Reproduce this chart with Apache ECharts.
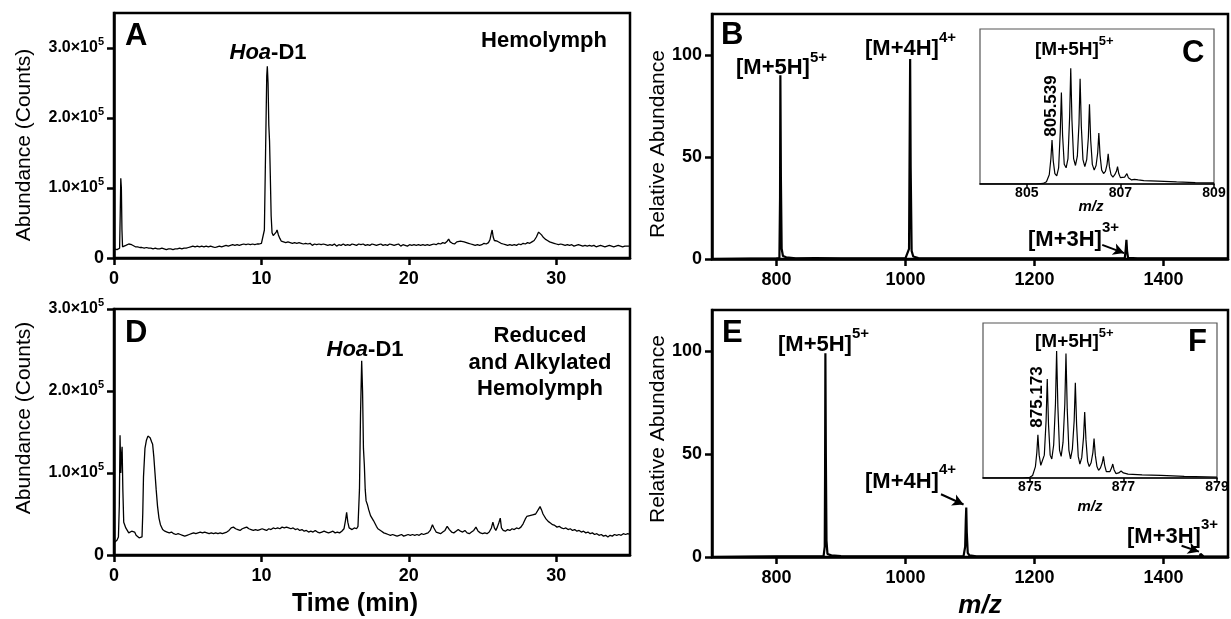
<!DOCTYPE html>
<html><head><meta charset="utf-8">
<script src="https://cdn.jsdelivr.net/npm/echarts@6.0.0/dist/echarts.min.js"></script>
<style>html,body{margin:0;padding:0;background:#fff}#c{width:1231px;height:619px}</style>
</head><body><div id="c"></div>
<script>
// ---- data (time in min, abundance in 10^3 counts) ----
const chromA = [[0,13],[0.1,12],[0.2,12],[0.3,13],[0.38,14],[0.42,60],[0.46,114],[0.5,100],[0.54,40],[0.58,16],[0.7,17],[0.8,18],[0.9,19],[1.0,20],[1.1,18],[1.2,19],[1.3,17],[1.45,16],[1.6,16],[1.75,15],[1.9,15],[2.05,14],[2.2,15],[2.35,14],[2.5,14],[2.65,13],[2.8,14],[2.95,13],[3.1,13],[3.25,14],[3.4,13],[3.55,12],[3.7,13],[3.85,13],[4.0,12],[4.15,13],[4.3,13],[4.45,14],[4.6,13],[4.75,14],[4.9,14],[5.05,15],[5.2,16],[5.35,17],[5.5,16],[5.65,17],[5.8,16],[5.95,17],[6.1,16],[6.25,17],[6.4,16],[6.55,17],[6.7,16],[6.85,15],[7.0,16],[7.15,17],[7.3,16],[7.45,17],[7.6,18],[7.75,17],[7.9,18],[8.05,19],[8.2,18],[8.35,19],[8.5,18],[8.65,19],[8.8,20],[8.95,19],[9.1,20],[9.25,19],[9.4,20],[9.55,19],[9.7,20],[9.85,20],[10.0,21],[10.1,22],[10.2,40],[10.28,150],[10.36,260],[10.4,274],[10.45,250],[10.5,190],[10.55,167],[10.6,120],[10.66,60],[10.72,36],[10.8,32],[10.9,30],[11.0,37],[11.06,40],[11.15,33],[11.25,28],[11.35,24],[11.5,23],[11.65,22],[11.8,23],[11.95,22],[12.1,21],[12.25,22],[12.4,21],[12.55,22],[12.7,21],[12.85,20],[13.0,21],[13.15,20],[13.3,21],[13.45,18],[13.6,20],[13.75,19],[13.9,20],[14.05,19],[14.2,20],[14.35,19],[14.5,18],[14.65,19],[14.8,18],[14.95,20],[15.1,17],[15.25,19],[15.4,18],[15.55,20],[15.7,18],[15.85,19],[16.0,18],[16.15,20],[16.3,19],[16.45,18],[16.6,20],[16.75,19],[16.9,20],[17.05,18],[17.2,19],[17.35,18],[17.5,20],[17.65,19],[17.8,18],[17.95,19],[18.1,20],[18.25,18],[18.4,19],[18.55,18],[18.7,20],[18.85,19],[19.0,18],[19.15,19],[19.3,20],[19.45,17],[19.6,19],[19.75,18],[19.9,17],[20.05,19],[20.2,18],[20.35,19],[20.5,18],[20.65,19],[20.8,18],[20.95,19],[21.1,18],[21.25,19],[21.4,18],[21.55,19],[21.7,20],[21.85,19],[22.0,21],[22.15,20],[22.3,22],[22.45,21],[22.6,24],[22.7,27],[22.8,23],[22.95,21],[23.1,20],[23.25,23],[23.35,25],[23.5,24],[23.6,25],[23.75,23],[23.9,22],[24.05,21],[24.2,20],[24.35,19],[24.5,18],[24.65,19],[24.8,18],[24.95,19],[25.1,21],[25.25,20],[25.4,22],[25.5,26],[25.6,36],[25.65,40],[25.72,30],[25.8,25],[25.9,23],[26.0,24],[26.1,22],[26.25,21],[26.4,20],[26.55,19],[26.7,18],[26.85,19],[27.0,18],[27.15,19],[27.3,18],[27.45,20],[27.6,19],[27.75,21],[27.9,20],[28.05,22],[28.2,21],[28.35,23],[28.5,25],[28.65,30],[28.8,37],[28.9,36],[29.0,33],[29.1,30],[29.25,27],[29.4,25],[29.55,23],[29.7,22],[29.85,21],[30.0,20],[30.15,19],[30.3,20],[30.45,19],[30.6,18],[30.75,19],[30.9,18],[31.05,19],[31.2,17],[31.35,18],[31.5,19],[31.65,18],[31.8,17],[31.95,18],[32.1,17],[32.25,18],[32.4,17],[32.55,18],[32.7,16],[32.85,17],[33.0,18],[33.15,17],[33.3,16],[33.45,17],[33.6,18],[33.75,17],[33.9,16],[34.05,17],[34.2,18],[34.35,17],[34.5,16],[34.65,17],[34.8,17],[35,17]];
const chromD = [[0,15],[0.1,16],[0.2,18],[0.3,22],[0.36,60],[0.41,146],[0.46,100],[0.5,120],[0.55,132],[0.6,80],[0.66,40],[0.72,38],[0.8,33],[0.9,30],[1.0,27],[1.1,26],[1.2,29],[1.3,31],[1.4,28],[1.5,24],[1.6,22],[1.7,21],[1.8,21],[1.9,22],[1.95,50],[2.0,95],[2.1,130],[2.2,140],[2.3,145],[2.38,147],[2.45,143],[2.55,138],[2.62,135],[2.7,120],[2.78,100],[2.86,80],[2.95,60],[3.05,45],[3.15,37],[3.3,31],[3.45,29],[3.6,28],[3.75,27],[3.9,28],[4.05,26],[4.2,25],[4.35,26],[4.5,25],[4.65,24],[4.8,23],[4.95,24],[5.1,25],[5.25,26],[5.4,27],[5.55,26],[5.7,27],[5.85,28],[6.0,27],[6.15,28],[6.3,27],[6.45,26],[6.6,27],[6.75,26],[6.9,27],[7.05,26],[7.2,27],[7.35,26],[7.5,27],[7.65,28],[7.8,30],[7.95,33],[8.1,34],[8.25,32],[8.4,31],[8.55,30],[8.7,32],[8.85,33],[9.0,34],[9.15,32],[9.3,31],[9.45,30],[9.6,31],[9.75,30],[9.9,31],[10.05,32],[10.2,31],[10.35,30],[10.5,32],[10.65,31],[10.8,33],[10.95,32],[11.1,33],[11.25,32],[11.4,34],[11.55,33],[11.7,34],[11.85,33],[12.0,32],[12.15,33],[12.3,31],[12.45,32],[12.6,30],[12.75,31],[12.9,29],[13.05,30],[13.2,28],[13.35,29],[13.5,28],[13.65,30],[13.8,28],[13.95,27],[14.1,28],[14.25,29],[14.4,28],[14.55,27],[14.7,28],[14.85,29],[15.0,27],[15.15,28],[15.3,27],[15.45,29],[15.6,32],[15.7,42],[15.78,52],[15.86,40],[15.95,33],[16.05,32],[16.15,31],[16.3,33],[16.45,32],[16.55,35],[16.65,80],[16.72,170],[16.8,237],[16.86,200],[16.92,130],[16.98,110],[17.04,80],[17.1,66],[17.18,62],[17.28,55],[17.4,48],[17.5,47],[17.6,42],[17.7,40],[17.8,35],[17.9,32],[18.0,30],[18.15,29],[18.3,27],[18.45,26],[18.6,25],[18.75,24],[18.9,25],[19.05,24],[19.2,23],[19.35,24],[19.5,25],[19.65,23],[19.8,24],[19.95,25],[20.1,24],[20.25,25],[20.4,24],[20.55,25],[20.7,24],[20.85,26],[21.0,25],[21.15,26],[21.3,27],[21.45,30],[21.6,37],[21.7,33],[21.85,28],[22.0,27],[22.15,26],[22.3,28],[22.45,30],[22.6,35],[22.75,31],[22.9,28],[23.05,27],[23.2,29],[23.35,31],[23.5,29],[23.65,28],[23.8,30],[23.95,27],[24.1,26],[24.25,28],[24.4,30],[24.55,34],[24.7,29],[24.85,27],[25.0,26],[25.15,27],[25.3,26],[25.45,28],[25.6,33],[25.7,40],[25.8,33],[25.9,30],[26.0,34],[26.1,39],[26.2,45],[26.28,33],[26.4,30],[26.55,29],[26.7,31],[26.85,30],[27.0,32],[27.15,31],[27.3,33],[27.45,32],[27.6,34],[27.75,38],[27.9,44],[28.0,47],[28.1,45],[28.2,48],[28.3,46],[28.4,49],[28.5,47],[28.6,50],[28.7,52],[28.8,56],[28.9,59],[29.0,55],[29.1,50],[29.2,47],[29.3,44],[29.45,41],[29.6,39],[29.75,37],[29.9,36],[30.05,34],[30.2,35],[30.35,33],[30.5,32],[30.65,33],[30.8,31],[30.95,32],[31.1,30],[31.25,31],[31.4,29],[31.55,30],[31.7,28],[31.85,29],[32.0,27],[32.15,28],[32.3,26],[32.45,27],[32.6,25],[32.75,26],[32.9,24],[33.05,25],[33.2,23],[33.35,24],[33.5,22],[33.65,24],[33.8,23],[33.95,25],[34.1,24],[34.25,25],[34.4,24],[34.55,26],[34.7,25],[34.85,26],[35,25]];
// mass spectra [m/z, relative abundance]
const specB = [[700,0],[760,0.2],[800,0.3],[804.5,0.5],[805.5,30],[806,90],[806.8,40],[808,5],[810,1.5],[815,0.8],[830,0.3],[860,0.4],[900,0.3],[950,0.3],[1000,0.4],[1005.5,5],[1006.5,60],[1007.2,98],[1008,45],[1009.5,4],[1012,1.2],[1020,0.5],[1060,0.3],[1100,0.3],[1200,0.3],[1300,0.3],[1340,0.5],[1341.5,5],[1342.5,9.4],[1343.5,4],[1345,0.6],[1360,0.3],[1400,0.3],[1450,0.3],[1500,0.3]];
const specE = [[700,0],[760,0.2],[800,0.3],[873,0.4],[874.8,5],[875.3,40],[875.8,99],[876.5,50],[877.5,8],[879,1.5],[885,0.8],[900,0.4],[1000,0.3],[1090,0.4],[1092.5,5],[1093.5,18],[1094.2,24],[1095,12],[1096.5,2],[1099,0.8],[1110,0.3],[1200,0.3],[1400,0.3],[1456,0.3],[1457.5,1.5],[1458.3,2.4],[1459.5,1],[1462,0.3],[1500,0.2]];
// isotope envelopes (insets) [m/z, % of most intense]
const isoC = [[804,0],[805.2,0],[805.35,0.5],[805.42,2],[805.48,8],[805.515,22],[805.539,38],[805.565,20],[805.6,9],[805.64,7],[805.68,14],[805.715,45],[805.739,79],[805.765,42],[805.8,17],[805.84,14],[805.88,22],[805.915,58],[805.939,100],[805.965,55],[806.0,22],[806.04,16],[806.08,24],[806.115,52],[806.139,91],[806.165,50],[806.2,21],[806.24,15],[806.28,21],[806.315,40],[806.339,69],[806.365,38],[806.4,17],[806.44,12],[806.48,16],[806.515,27],[806.539,44],[806.565,25],[806.6,12],[806.64,9],[806.68,11],[806.715,17],[806.739,26],[806.765,15],[806.8,8],[806.84,6],[806.88,8],[806.915,11],[806.939,15],[806.965,9],[807.0,5.5],[807.04,4.5],[807.09,6],[807.139,9],[807.17,5.5],[807.24,3.5],[807.3,4],[807.339,5],[807.38,3.5],[807.5,3],[807.8,2.5],[808.2,1.8],[808.6,1.2],[809,0.9]];
const isoF = [[874,0],[874.85,0],[875.0,0.5],[875.06,2],[875.12,9],[875.15,20],[875.173,34],[875.2,18],[875.235,10],[875.27,9],[875.31,18],[875.348,45],[875.373,78],[875.4,42],[875.435,18],[875.47,15],[875.51,26],[875.548,58],[875.573,100],[875.6,56],[875.635,22],[875.67,17],[875.71,28],[875.748,58],[875.773,98],[875.8,54],[875.835,22],[875.87,15],[875.91,23],[875.948,45],[875.973,75],[876.0,42],[876.035,17],[876.07,11],[876.11,16],[876.148,32],[876.173,52],[876.2,30],[876.235,13],[876.27,9],[876.31,12],[876.348,20],[876.373,31],[876.4,18],[876.435,9],[876.47,6],[876.51,8],[876.548,12],[876.573,17],[876.6,10],[876.635,5],[876.67,4],[876.71,5],[876.748,8],[876.773,11],[876.8,6.5],[876.84,3.5],[876.9,4],[876.95,5.5],[876.973,6],[877.0,4],[877.1,3],[877.4,2.5],[877.8,2],[878.3,1.3],[879,0.8]];
// ticks
const timeTicks = [0,10,20,30];
const abundTicks = [0,100,200,300];
const mzTicks = [800,1000,1200,1400];
const relTicks = [0,50,100];
const isoTicksC = [805,807,809];
const isoTicksF = [875,877,879];

const FONT = '"Liberation Sans", Arial, Helvetica, sans-serif';
const chart = echarts.init(document.getElementById('c'), null, {renderer:'canvas'});

function mainGrid(l,t,w,h){return {left:l,top:t,width:w,height:h,show:true,borderColor:'#000',borderWidth:2.5,backgroundColor:'transparent',containLabel:false,outerBoundsMode:'none'};}
function insetGrid(l,t,w,h){return {left:l,top:t,width:w,height:h,show:true,borderColor:'#555',borderWidth:1.2,backgroundColor:'#fff',containLabel:false,outerBoundsMode:'none'};}

const plainFmt = v => String(v);
function xMain(gi,min,max,ticks){return {type:'value',gridIndex:gi,min:min,max:max,
  axisLine:{show:true,onZero:false,lineStyle:{color:'#000',width:2.5}},
  axisTick:{show:true,length:7,lineStyle:{color:'#000',width:2.5},customValues:ticks},
  axisLabel:{customValues:ticks,color:'#000',fontSize:18,fontWeight:'bold',fontFamily:FONT,margin:12,formatter:plainFmt},
  splitLine:{show:false}};}
function yMain(gi,min,max,ticks,fmt){return {type:'value',gridIndex:gi,min:min,max:max,
  axisLine:{show:true,onZero:false,lineStyle:{color:'#000',width:2.5}},
  axisTick:{show:true,length:7,lineStyle:{color:'#000',width:2.5},customValues:ticks},
  axisLabel:{customValues:ticks,color:'#000',fontSize:18,fontWeight:'bold',fontFamily:FONT,margin:10,formatter:fmt,
    rich:{m:{fontSize:16,fontWeight:'bold',fontFamily:FONT,color:'#000',lineHeight:16},
          s:{fontSize:11,fontWeight:'bold',fontFamily:FONT,color:'#000',lineHeight:11,padding:[0,0,12,0]}}},
  splitLine:{show:false}};}
function xInset(gi,min,max,ticks){return {type:'value',gridIndex:gi,min:min,max:max,
  axisLine:{show:true,onZero:false,lineStyle:{color:'#000',width:1.6}},
  axisTick:{show:true,length:4,lineStyle:{color:'#000',width:1.5},customValues:ticks},
  axisLabel:{customValues:ticks,color:'#000',fontSize:14,fontWeight:'bold',fontFamily:FONT,margin:2,formatter:plainFmt},
  splitLine:{show:false}};}
function yInset(gi,max){return {type:'value',gridIndex:gi,min:0,max:max,show:false,splitLine:{show:false}};}

const sciFmt = v => v===0 ? '0' : '{m|'+(v/100).toFixed(1)+'×10}{s|5}';

function lineSeries(data,xi,yi,w){return {type:'line',xAxisIndex:xi,yAxisIndex:yi,data:data,showSymbol:false,symbol:'none',
  lineStyle:{color:'#000',width:w},itemStyle:{color:'#000'},silent:true,animation:false,clip:true};}

function arrowLines(pairs){return {silent:true,symbol:['none','arrow'],symbolSize:[9,11],animation:false,
  label:{show:false},lineStyle:{color:'#000',width:2,type:'solid'},data:pairs.map(p=>[{coord:p[0]},{coord:p[1]}])};}

function txt(x,y,text,size,opts){opts=opts||{};return {type:'text',x:x,y:y,rotation:opts.rot||0,silent:true,z:100,
  style:Object.assign({text:text,fill:'#000',fontSize:size,fontWeight:opts.weight||'bold',fontStyle:opts.style||'normal',fontFamily:FONT,
    align:opts.align||'left',textAlign:opts.align||'left',verticalAlign:'middle',textVerticalAlign:'middle'},opts.rich?{rich:opts.rich}:{})};}

function ionRich(b,s,raise){return {b:{fontSize:b,fontWeight:'bold',fontFamily:FONT,fill:'#000',lineHeight:b},
  s:{fontSize:s,fontWeight:'bold',fontFamily:FONT,fill:'#000',lineHeight:s,padding:[0,0,2*raise,0]}};}
function ion(x,y,base,sup,b,s,raise){return txt(x,y,'{b|'+base+'}{s|'+sup+'}',b,{rich:ionRich(b,s,raise)});}
const hoaRich = {i:{fontSize:22,fontWeight:'bold',fontStyle:'italic',fontFamily:FONT,fill:'#000'},
                 n:{fontSize:22,fontWeight:'bold',fontFamily:FONT,fill:'#000'}};

const option = {
  animation:false,
  backgroundColor:'#fff',
  grid:[mainGrid(114,13,516,245), mainGrid(712,14,516,245), mainGrid(114,309,516,246), mainGrid(712,310,516,247),
        insetGrid(980,29,234,155), insetGrid(983,323,234,155)],
  xAxis:[xMain(0,0,35,timeTicks), xMain(1,700,1500,mzTicks), xMain(2,0,35,timeTicks), xMain(3,700,1500,mzTicks),
         xInset(4,804,809,isoTicksC), xInset(5,874,879,isoTicksF)],
  yAxis:[yMain(0,0,350,abundTicks,sciFmt), yMain(1,0,120,relTicks,plainFmt), yMain(2,0,300,abundTicks,sciFmt), yMain(3,0,120,relTicks,plainFmt),
         yInset(4,134), yInset(5,122)],
  series:[
    lineSeries(chromA,0,0,1.3),
    Object.assign(lineSeries(specB,1,1,2.2),{markLine:arrowLines([[[1305,6.9],[1339,2.9]]])}),
    lineSeries(chromD,2,2,1.3),
    Object.assign(lineSeries(specE,3,3,2.2),{markLine:arrowLines([[[1055,30.5],[1090,25.5]],[[1428,5.5],[1455,2.6]]])}),
    lineSeries(isoC,4,4,1.2),
    lineSeries(isoF,5,5,1.2)
  ],
  graphic:{elements:[
    txt(125,36,'A',31),
    txt(268,53,'{i|Hoa}{n|-D1}',22,{align:'center',rich:hoaRich}),
    txt(544,41,'Hemolymph',22,{align:'center'}),
    txt(125,333,'D',31),
    txt(365,350,'{i|Hoa}{n|-D1}',22,{align:'center',rich:hoaRich}),
    txt(540,336,'Reduced',22,{align:'center'}),
    txt(540,363,'and Alkylated',22,{align:'center'}),
    txt(540,389,'Hemolymph',22,{align:'center'}),
    txt(721,35,'B',31),
    ion(736,68,'[M+5H]','5+',22,15,10),
    ion(865,49,'[M+4H]','4+',22,15,11),
    ion(1028,240,'[M+3H]','3+',22,15,12),
    txt(1182,53,'C',31),
    ion(1035,50,'[M+5H]','5+',19,13,9),
    txt(1051,106,'805.539',17,{align:'center',rot:Math.PI/2}),
    txt(1091,207,'m/z',15,{align:'center',style:'italic'}),
    txt(722,333,'E',31),
    ion(778,345,'[M+5H]','5+',22,15,11),
    ion(865,482,'[M+4H]','4+',22,15,12),
    ion(1127,537,'[M+3H]','3+',22,15,12),
    txt(1188,342,'F',31),
    ion(1035,342,'[M+5H]','5+',19,13,9),
    txt(1037,397,'875.173',17,{align:'center',rot:Math.PI/2}),
    txt(1090,507,'m/z',15,{align:'center',style:'italic'}),
    txt(355,604,'Time (min)',25,{align:'center'}),
    txt(980,606,'m/z',26,{align:'center',style:'italic'}),
    txt(24,145,'Abundance (Counts)',21,{align:'center',rot:Math.PI/2,weight:'normal'}),
    txt(24,418,'Abundance (Counts)',21,{align:'center',rot:Math.PI/2,weight:'normal'}),
    txt(658,144,'Relative Abundance',21,{align:'center',rot:Math.PI/2,weight:'normal'}),
    txt(658,429,'Relative Abundance',21,{align:'center',rot:Math.PI/2,weight:'normal'})
  ]}
};
chart.setOption(option);
</script></body></html>
